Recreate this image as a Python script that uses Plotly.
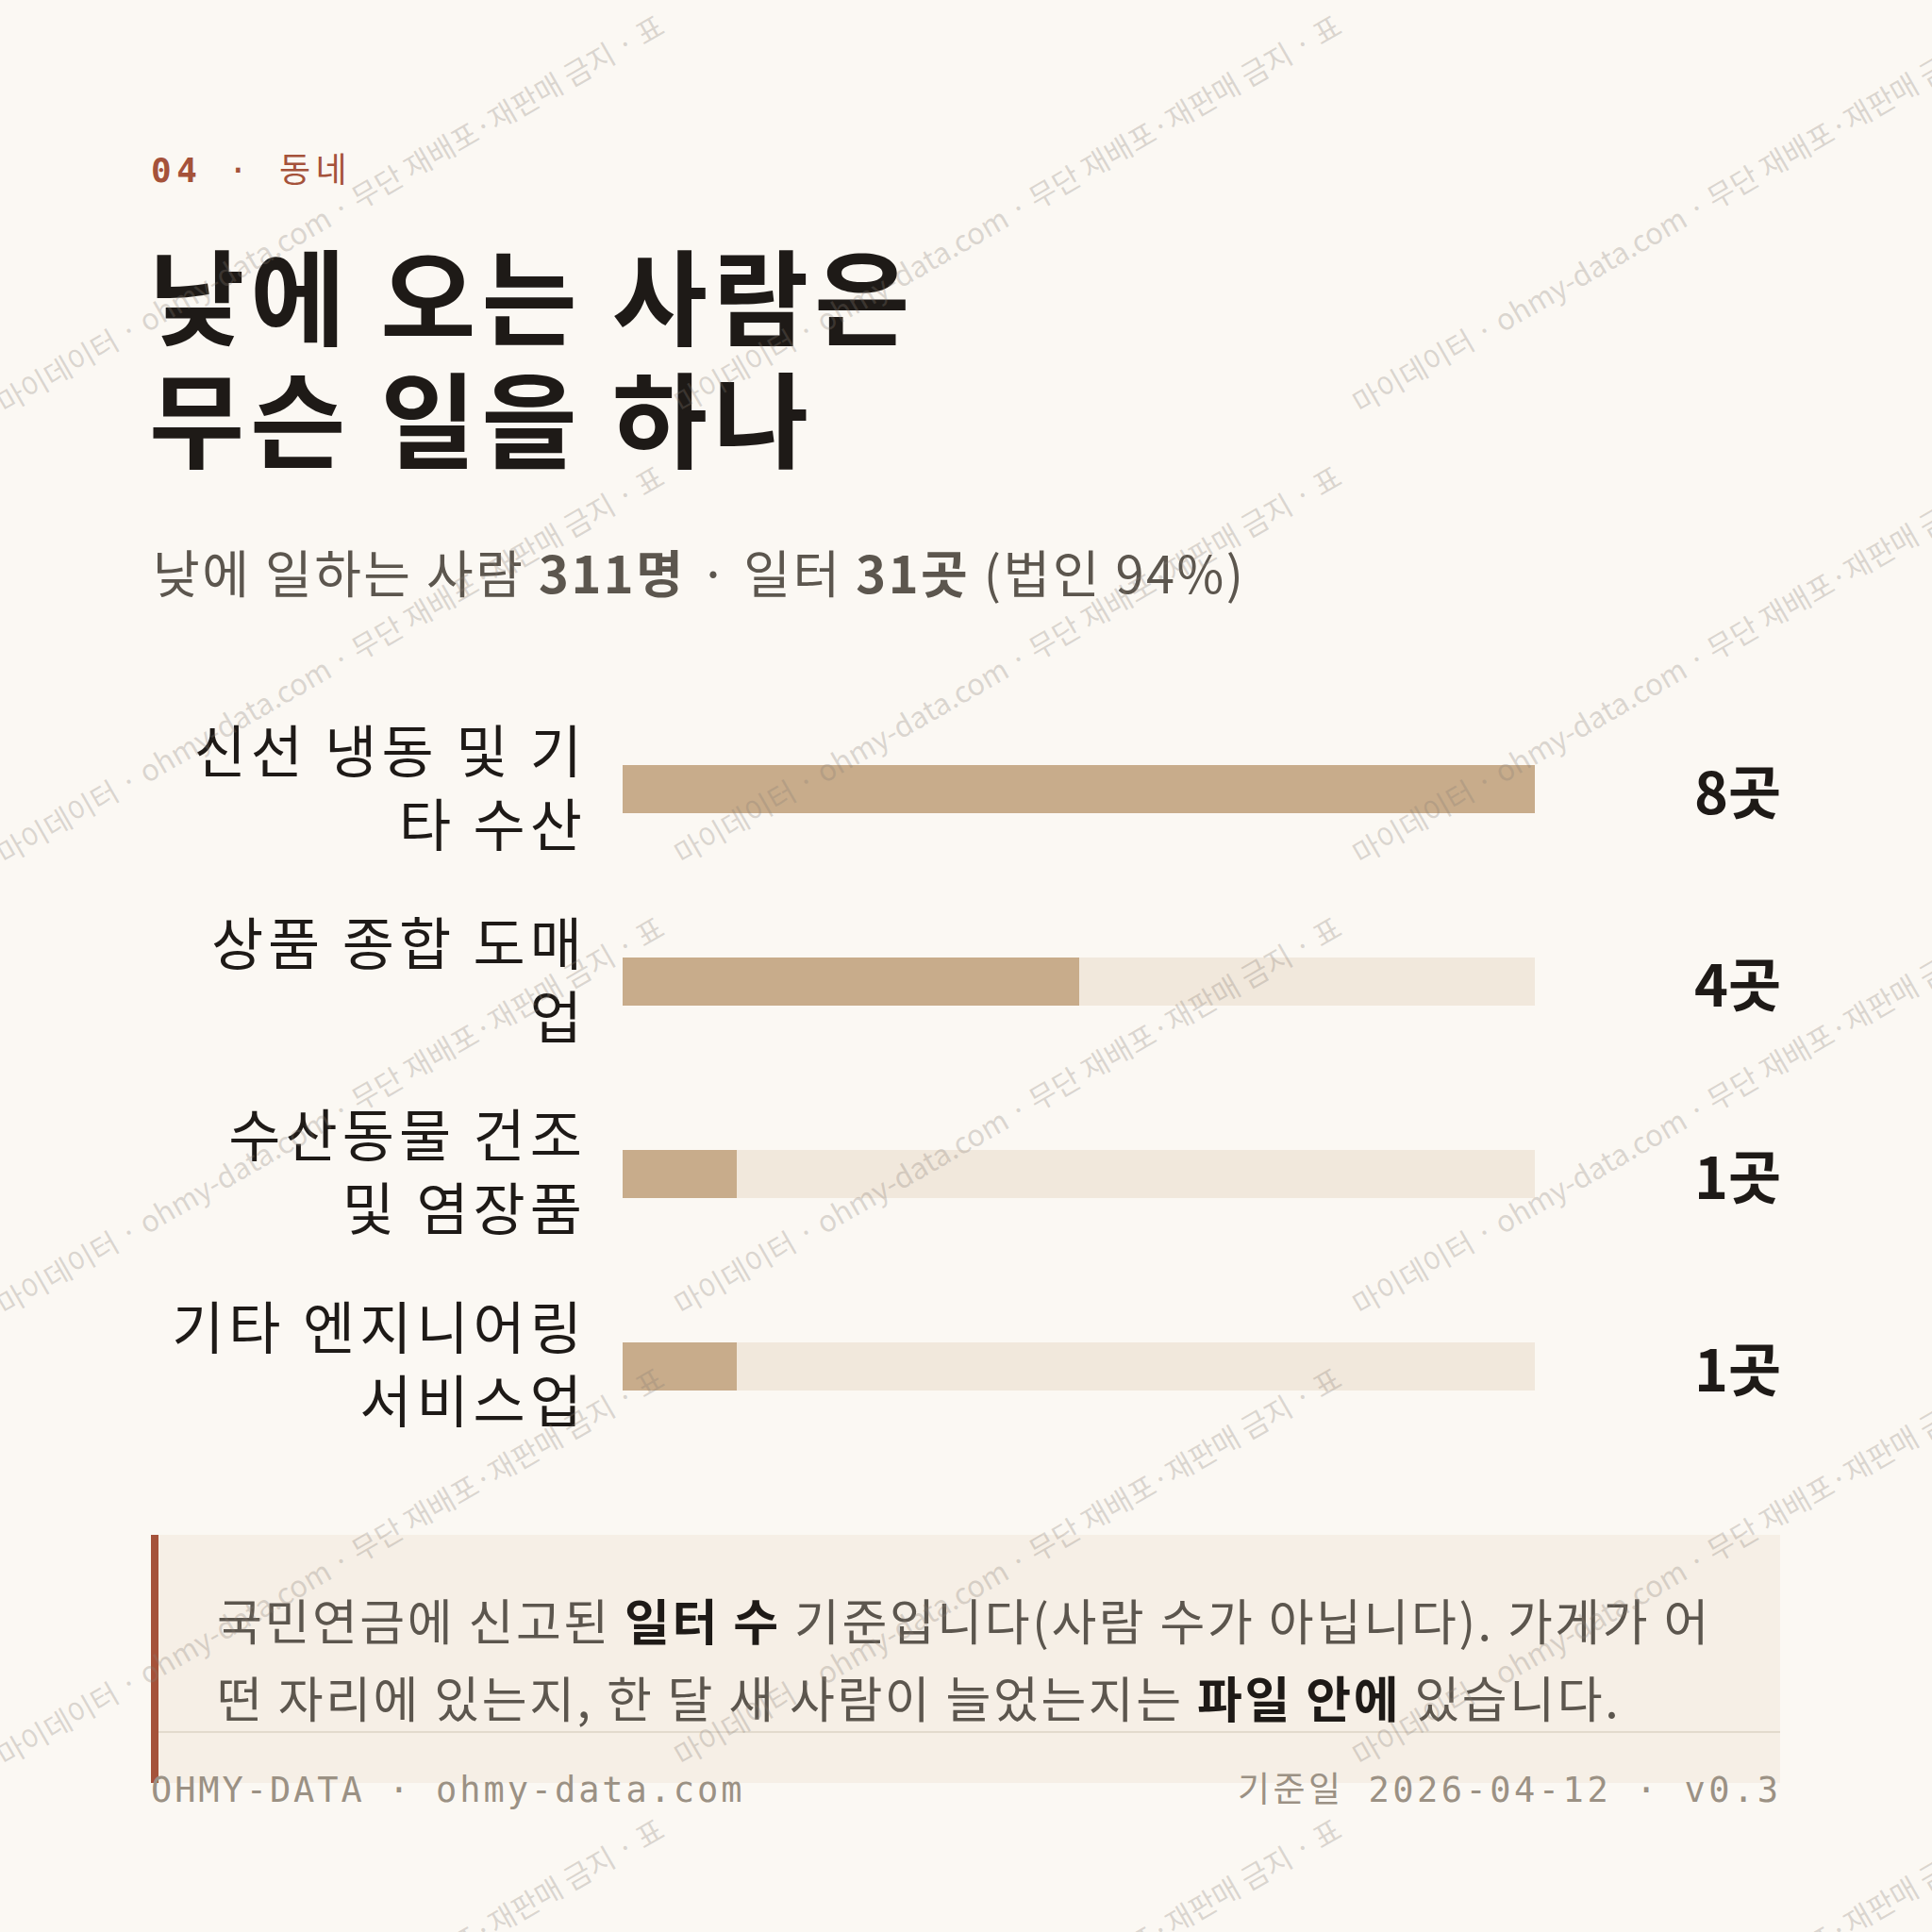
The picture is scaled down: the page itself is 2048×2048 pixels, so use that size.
import plotly.graph_objects as go

# ---------------- data ----------------
categories = ["신선 냉동 및 기타 수산", "상품 종합 도매업", "수산동물 건조 및 염장품", "기타 엔지니어링 서비스업"]
tick_lines = [["신선 냉동 및 기", "타 수산"], ["상품 종합 도매", "업"], ["수산동물 건조", "및 염장품"], ["기타 엔지니어링", "서비스업"]]
values = [8, 4, 1, 1]
unit = "곳"
people_total = 311
sites_total = 31
corp_share = 94

# ---------------- style ----------------
W = H = 2048
BG = "#fbf8f3"
INK = "#1e1a17"
SUB = "#5c564e"
ACCENT = "#a5523a"
BAR = "#c8ac8b"
TRACK = "#f1e8dc"
MUTED = "#9b9184"
KR = "Noto Sans CJK KR, Noto Sans, sans-serif"
MONO = "DejaVu Sans Mono, Liberation Mono, Noto Sans CJK KR, monospace"


def px(x):
    return x / W


def py(y):
    return 1 - y / H


def ls(text, sp):
    return f"<span style='letter-spacing:{sp}px'>{text}</span>"


vmax = max(values)
track = [vmax] * len(values)
tick_labels = ["<br>".join(ls(t, 5) for t in lines) for lines in tick_lines]

fig = go.Figure()
fig.add_trace(go.Bar(y=categories, x=track, orientation="h", width=0.25,
                     marker=dict(color=TRACK, line=dict(width=0)),
                     hoverinfo="skip", showlegend=False))
fig.add_trace(go.Bar(y=categories, x=values, orientation="h", width=0.25,
                     marker=dict(color=BAR, line=dict(width=0)),
                     showlegend=False))

ann = []
# header
ann.append(dict(text=ls("<b>04</b> · 동네", 5.5), x=px(158), y=py(180), xref="paper", yref="paper",
                xanchor="left", yanchor="middle", showarrow=False,
                font=dict(family=MONO, size=36, color=ACCENT)))
# title
for t, yy in [("낮에 오는 사람은", 310), ("무슨 일을 하나", 440)]:
    ann.append(dict(text=f"<b>{ls(t, 6)}</b>", x=px(156), y=py(yy), xref="paper", yref="paper",
                    xanchor="left", yanchor="middle", showarrow=False,
                    font=dict(family=KR, size=110, color=INK)))
# subtitle
sub = f"낮에 일하는 사람 <b>{people_total}명</b> · 일터 <b>{sites_total}{unit}</b> (법인 {corp_share}%)"
ann.append(dict(text=ls(sub, 2.5), x=px(160), y=py(605), xref="paper", yref="paper",
                xanchor="left", yanchor="middle", showarrow=False,
                font=dict(family=KR, size=54, color=SUB)))
# value labels
for c, v in zip(categories, values):
    ann.append(dict(text=f"<b>{v}{unit}</b>", x=px(1890), y=c, xref="paper", yref="y",
                    xanchor="right", yanchor="middle", showarrow=False,
                    font=dict(family=KR, size=61, color=INK)))
# note
note_lines = [
    f"국민연금에 신고된 <b><span style='color:{INK}'>일터 수</span></b> 기준입니다(사람 수가 아닙니다). 가게가 어",
    f"떤 자리에 있는지, 한 달 새 사람이 늘었는지는 <b><span style='color:{INK}'>파일 안에</span></b> 있습니다.",
]
for t, yy in zip(note_lines, [1716, 1798]):
    ann.append(dict(text=ls(t, 2.6), x=px(228), y=py(yy), xref="paper", yref="paper",
                    xanchor="left", yanchor="middle", showarrow=False,
                    font=dict(family=KR, size=52, color=SUB)))
# footer
ann.append(dict(text=ls("OHMY-DATA · ohmy-data.com", 2.9), x=px(158), y=py(1897), xref="paper", yref="paper",
                xanchor="left", yanchor="middle", showarrow=False,
                font=dict(family=MONO, size=37, color=MUTED)))
ann.append(dict(text=ls("기준일 2026-04-12 · v0.3", 3.5), x=px(1891), y=py(1897), xref="paper", yref="paper",
                xanchor="right", yanchor="middle", showarrow=False,
                font=dict(family=MONO, size=37, color=MUTED)))
# watermark
wm = "마이데이터 · ohmy-data.com · 무단 재배포·재판매 금지 · 표"
for x0 in [-10, 708, 1427]:
    for y0 in [432, 910, 1388, 1866, 2344]:
        ann.append(dict(text=wm, x=px(x0 + 359), y=py(y0 - 207), xref="paper", yref="paper",
                        xanchor="center", yanchor="middle", showarrow=False, textangle=-30,
                        font=dict(family=KR, size=31, color="rgba(135,125,115,0.28)")))

shapes = [
    dict(type="rect", xref="paper", yref="paper", x0=px(160), x1=px(1887), y0=py(1890), y1=py(1627),
         fillcolor="#f6efe6", line=dict(width=0), layer="below"),
    dict(type="line", xref="paper", yref="paper", x0=px(160), x1=px(1887), y0=py(1836), y1=py(1836),
         line=dict(color="#e2dacd", width=2), layer="below"),
    dict(type="rect", xref="paper", yref="paper", x0=px(160), x1=px(168), y0=py(1890), y1=py(1627),
         fillcolor=ACCENT, line=dict(width=0), layer="below"),
]

fig.update_layout(
    width=W, height=H,
    margin=dict(l=0, r=0, t=0, b=0),
    paper_bgcolor=BG, plot_bgcolor=BG,
    barmode="overlay", bargap=0,
    xaxis=dict(domain=[px(660), px(1627)], range=[0, vmax], visible=False, fixedrange=True),
    yaxis=dict(domain=[py(1550), py(735)], type="category", categoryorder="array",
               categoryarray=categories, range=[len(categories) - 0.5, -0.5],
               tickvals=categories, ticktext=tick_labels, ticks="", ticklabelstandoff=37,
               showgrid=False, zeroline=False, showline=False, fixedrange=True,
               tickfont=dict(family=KR, size=60, color=INK)),
    annotations=ann,
    shapes=shapes,
    font=dict(family=KR),
)

fig.write_html("out.html", config={"displayModeBar": False},
               post_script="document.body.style.margin='0';document.body.style.background='#fbf8f3';")
